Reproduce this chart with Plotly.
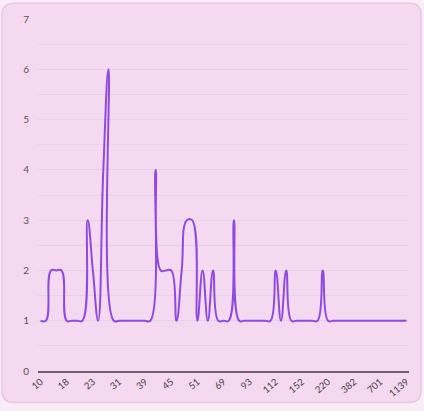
import plotly.graph_objects as go

# ---- data ----
categories = ["10", "11", "13", "14", "16", "18", "19", "20", "21", "22",
              "23", "25", "27", "28", "30", "31", "33", "35", "36", "38",
              "39", "40", "41", "42", "44", "45", "46", "47", "48", "50",
              "51", "54", "58", "62", "66", "69", "74", "79", "84", "88",
              "93", "97", "101", "105", "108", "112", "120", "128", "136", "144",
              "152", "164", "178", "192", "206", "220", "248", "280", "312", "348",
              "382", "430", "490", "560", "630", "701", "780", "860", "950", "1040",
              "1139"]
values = [1, 1, 2, 2, 2, 1, 1, 1, 1, 3,
          2, 1, 4, 6, 1, 1, 1, 1, 1, 1,
          1, 1, 4, 2, 2, 2, 1, 2, 3, 3,
          1, 2, 1, 2, 1, 1, 1, 3, 1, 1,
          1, 1, 1, 1, 1, 2, 1, 2, 1, 1,
          1, 1, 1, 1, 2, 1, 1, 1, 1, 1,
          1, 1, 1, 1, 1, 1, 1, 1, 1, 1,
          1]
shown_ticks = ["10", "18", "23", "31", "39", "45", "51", "69", "93",
               "112", "152", "220", "382", "701", "1139"]
y_ticks = [0, 1, 2, 3, 4, 5, 6, 7]

# ---- geometry helpers (pixel layout) ----
W, H = 424, 411
L, R, T, B = 38, 15, 18, 35
pw, ph = W - L - R, H - T - B

def px(x):
    return (x - L) / pw

def py(y):
    return (H - B - y) / ph

def rounded_rect(x0, y0, x1, y1, r):
    rx, ry = r / pw, r / ph
    X0, X1 = px(x0), px(x1)
    Y0, Y1 = py(y0), py(y1)  # Y0 top (larger), Y1 bottom
    return (f"M {X0+rx},{Y0} L {X1-rx},{Y0} Q {X1},{Y0} {X1},{Y0-ry} "
            f"L {X1},{Y1+ry} Q {X1},{Y1} {X1-rx},{Y1} L {X0+rx},{Y1} "
            f"Q {X0},{Y1} {X0},{Y1+ry} L {X0},{Y0-ry} Q {X0},{Y0} {X0+rx},{Y0} Z")

fig = go.Figure()
fig.add_trace(go.Scatter(
    x=categories, y=values, mode="lines",
    line=dict(color="#8f4ae0", width=2, shape="spline", smoothing=1.3),
    hoverinfo="x+y", showlegend=False,
))

font_family = "Lato, 'Noto Sans', sans-serif"

fig.update_layout(
    width=W, height=H,
    margin=dict(l=L, r=R, t=T, b=B, pad=0),
    paper_bgcolor="#f9eef8",
    plot_bgcolor="rgba(0,0,0,0)",
    font=dict(family=font_family, size=10, color="#555555"),
    shapes=[dict(type="path", xref="paper", yref="paper", layer="below",
                 path=rounded_rect(2, 2, 421, 408, 12),
                 fillcolor="#f4d9f0", line=dict(color="#e6c8e3", width=1.5))],
    xaxis=dict(
        type="category", categoryorder="array", categoryarray=categories,
        range=[-0.5, len(categories) - 0.5],
        tickmode="array", tickvals=shown_ticks, ticktext=shown_ticks,
        tickangle=-40, showgrid=False, zeroline=False,
        showline=True, linecolor="#6e5f72", linewidth=1.5,
        ticks="", tickfont=dict(size=9.5, color="#444444"),
    ),
    yaxis=dict(
        range=[0, 7], tickvals=y_ticks, ticks="",
        showgrid=True, gridcolor="#e4d2ea", gridwidth=1,
        minor=dict(dtick=0.5, showgrid=True, gridcolor="#e4d2ea", gridwidth=1),
        zeroline=False, showline=False,
        tickfont=dict(size=10, color="#555555"), ticklabelstandoff=8,
    ),
)

fig.write_html(
    "out.html",
    config={"displayModeBar": False},
    post_script="document.body.style.margin='0';document.body.style.padding='0';"
                "document.body.style.background='#f9eef8';",
)
